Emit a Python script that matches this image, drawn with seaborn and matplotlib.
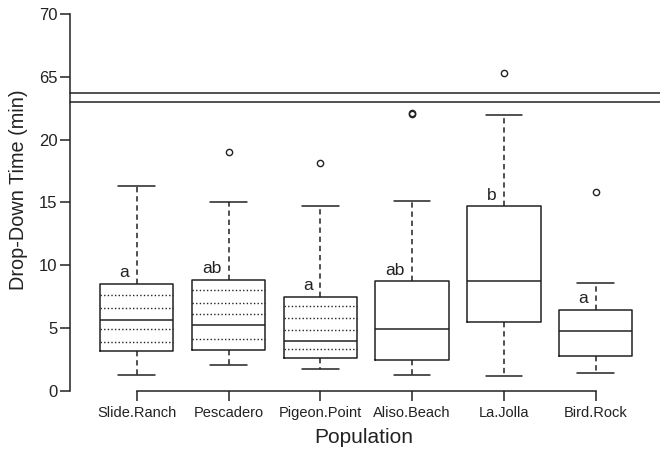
import numpy as np
import pandas as pd
import matplotlib
matplotlib.use("Agg")
import matplotlib.pyplot as plt
import seaborn as sns

# box summaries (min whisker, Q1, median, Q3, max whisker)
populations = ["Slide.Ranch", "Pescadero", "Pigeon.Point", "Aliso.Beach", "La.Jolla", "Bird.Rock"]
whisk_lo = [1.25, 2.05, 1.73, 1.25, 1.17, 1.44]
q1 = [3.16, 3.30, 2.66, 2.50, 5.53, 2.76]
median = [5.66, 5.24, 4.01, 4.92, 8.76, 4.81]
q3 = [8.50, 8.87, 7.49, 8.72, 14.69, 6.45]
whisk_hi = [16.33, 15.00, 14.72, 15.14, 21.99, 8.61]
outliers = [[], [19.0], [18.17], [22.05, 22.15], [65.3], [15.83]]

# dotted lines inside the first three boxes
dotted = [[3.91, 4.92, 6.59, 7.60],
          [4.17, 6.09, 7.04, 8.00],
          [3.32, 4.86, 5.77, 6.75],
          [], [], []]

letters = ["a", "ab", "a", "ab", "b", "a"]

# broken axis: everything between these two values is squeezed out
break_lo = 23.0
break_hi = 63.7


def make_obs(lo, a, m, b, hi, outs):
    # sample whose numpy quartiles come out exactly a, m, b
    k = len(outs) + 1
    vals = [lo] + [a] * k + [m] * k + [b] * k + [hi] + list(outs)
    return vals


rows = []
for i, p in enumerate(populations):
    for v in make_obs(whisk_lo[i], q1[i], median[i], q3[i], whisk_hi[i], outliers[i]):
        rows.append((p, v))
df = pd.DataFrame(rows, columns=["Population", "time"])

gap = 0.7
shift = break_hi - break_lo - gap


def fwd(y):
    return np.interp(y, [-1000, break_lo, break_hi, 1000],
                     [-1000, break_lo, break_lo + gap, 1000 - shift])


def inv(d):
    return np.interp(d, [-1000, break_lo, break_lo + gap, 1000 - shift],
                     [-1000, break_lo, break_hi, 1000])


sns.set_style("ticks")
plt.rcParams["font.family"] = ["Liberation Sans", "DejaVu Sans"]
ink = "#222222"

fig = plt.figure(figsize=(6.6, 4.49), dpi=100)
ax = fig.add_axes([70 / 660, 58 / 449, 590 / 660, 377 / 449])

sns.boxplot(data=df, x="Population", y="time", order=populations, ax=ax,
            fill=False, color=ink, linewidth=1.1, width=0.8, whis=1.5,
            whiskerprops=dict(linestyle=(0, (3.5, 2.5))),
            flierprops=dict(marker="o", markersize=4.5, markerfacecolor="none",
                            markeredgecolor=ink, markeredgewidth=1))

# scale set after the boxes so the stats use raw values
ax.set_yscale("function", functions=(fwd, inv))

for i, lines in enumerate(dotted):
    if lines:
        ax.hlines(lines, i - 0.4, i + 0.4, colors=ink, linewidth=1,
                  linestyles=(0, (1, 1.6)))

for i, t in enumerate(letters):
    ax.text(i - 0.08, q3[i] + 0.9, t, ha="right", va="center", fontsize=12.5, color=ink)

ax.axhline(break_lo, color=ink, linewidth=1.1, clip_on=False)
ax.axhline(break_hi, color=ink, linewidth=1.1, clip_on=False)

ax.set_ylim(0, 70)
ax.set_xlim(-0.727, 5.70)
ax.set_yticks([0, 5, 10, 15, 20, 65, 70])
ax.set_yticklabels(["0", "5", "10", "15", "20", "65", "70"])

sns.despine(ax=ax)
ax.spines["bottom"].set_bounds(0, 5)
for s in ["left", "bottom"]:
    ax.spines[s].set_color(ink)
    ax.spines[s].set_linewidth(1.1)
ax.tick_params(axis="both", direction="out", length=7, width=1.1, color=ink, labelcolor=ink)
ax.tick_params(axis="y", labelsize=12, pad=2)
ax.tick_params(axis="x", labelsize=10.5, pad=4)

ax.set_ylabel("Drop-Down Time (min)", fontsize=14.3, color=ink)
ax.set_xlabel("Population", fontsize=15, color=ink)
ax.yaxis.set_label_coords(-0.071, 0.533)
ax.xaxis.set_label_coords(0.498, -0.097)

fig.savefig("out.png", dpi=100)
